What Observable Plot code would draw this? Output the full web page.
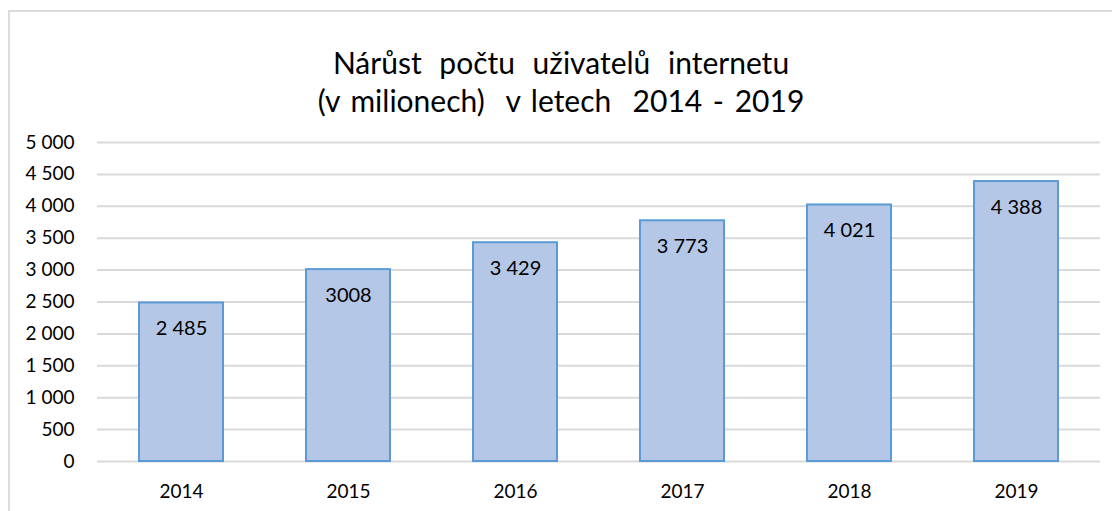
<!DOCTYPE html>
<html>
<head>
<meta charset="utf-8">
<script src="https://cdn.jsdelivr.net/npm/d3@7"></script>
<script src="https://cdn.jsdelivr.net/npm/@observablehq/plot@0.6"></script>
<style>
  html, body { margin: 0; padding: 0; background: #fff; overflow: hidden; width: 1112px; height: 511px; }
  #frame { position: absolute; left: 8px; top: 10px; width: 1300px; height: 700px; border: 2px solid #dcdcdc; box-sizing: border-box; pointer-events: none; }
  #title { position: absolute; left: 0; top: 43px; width: 1122px; text-align: center; font-family: Lato, "Open Sans", sans-serif; font-size: 30px; line-height: 38px; color: #000; }
  #title .l1 { word-spacing: 10px; }
  #title .l2 { word-spacing: 3px; }
  #chart { position: absolute; left: 0; top: 120px; }
</style>
</head>
<body>
<div id="frame"></div>
<div id="title"><span class="l1">Nárůst počtu uživatelů internetu</span><br><span class="l2">(v milionech)&nbsp; v letech&nbsp; 2014 - 2019</span></div>
<div id="chart"></div>
<script>
const years = ["2014", "2015", "2016", "2017", "2018", "2019"];
const users = [2485, 3008, 3429, 3773, 4021, 4388];
const valueLabels = ["2 485", "3008", "3 429", "3 773", "4 021", "4 388"];
const yTicks = [0, 500, 1000, 1500, 2000, 2500, 3000, 3500, 4000, 4500, 5000];

const data = years.map((y, i) => ({year: y, value: users[i], label: valueLabels[i]}));
const fmt = v => d3.format(",")(v).replace(/,/g, " ");

const chart = Plot.plot({
  width: 1112,
  height: 391,
  marginTop: 22,
  marginBottom: 50,
  marginLeft: 97,
  marginRight: 12,
  style: { fontFamily: 'Lato, "Open Sans", sans-serif', fontSize: "19px", color: "#000", background: "transparent" },
  x: { domain: years, paddingInner: 0.5, paddingOuter: 0.25, label: null },
  y: { domain: [0, 5000], ticks: yTicks, label: null },
  marks: [
    Plot.gridY(yTicks, { stroke: "#d9d9d9", strokeOpacity: 1, strokeWidth: 2 }),
    Plot.axisY(yTicks, { tickSize: 0, tickPadding: 23, tickFormat: fmt, fontSize: 19, label: null }),
    Plot.axisX({ tickSize: 0, tickPadding: 23, fontSize: 19, label: null }),
    Plot.barY(data, { x: "year", y: "value", fill: "#b4c7e7", stroke: "#5b9bd5", strokeWidth: 2 }),
    Plot.text(data, { x: "year", y: "value", text: "label", dy: 26, fontSize: 20, fill: "#000" })
  ]
});
document.getElementById("chart").appendChild(chart);
</script>
</body>
</html>
